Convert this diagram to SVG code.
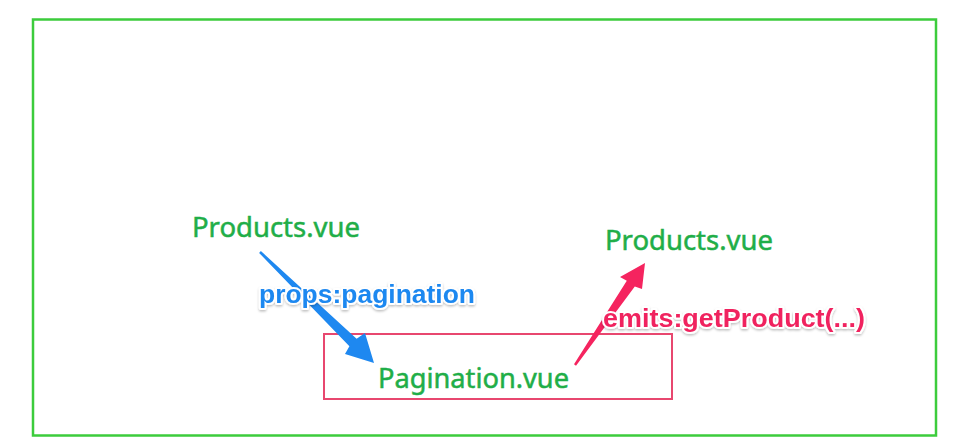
<svg xmlns="http://www.w3.org/2000/svg" width="980" height="446" viewBox="0 0 980 446">
<style>
.node-text{font-family:"Noto Sans","Open Sans","Liberation Sans",sans-serif;font-size:27.3px;fill:#1fae48;stroke:#1fae48;stroke-width:0.5;}
.lbl{font-family:"Liberation Sans",Arial,sans-serif;font-weight:bold;font-size:26.5px;stroke:#ffffff;stroke-width:4;stroke-linejoin:round;paint-order:stroke;filter:url(#sh);}
.blue{fill:#1e88f0;}
.pink{fill:#f0245e;}
</style>
<defs>
<filter id="sh" x="-10%" y="-30%" width="120%" height="160%">
<feDropShadow dx="0" dy="1.5" stdDeviation="1.2" flood-color="#000000" flood-opacity="0.25"/>
</filter>
</defs>
<rect width="980" height="446" fill="#ffffff"/>
<g id="frame">
<rect x="33" y="19.5" width="903" height="416" fill="none" stroke="#3ccc3c" stroke-width="2.5"/>
</g>
<g id="pagination-box">
<rect x="324" y="334" width="348" height="65" fill="none" stroke="#e8476f" stroke-width="2"/>
</g>
<g id="connectors">
<path d="M260.9,251.1 L356.6,338.8 L365,333 L374,363 L345,354 L349.4,346.2 L259.1,252.9 Z" fill="#1e88f0"/>
<path d="M574,364.2 L626.8,280.8 L620,277 L645,263 L642,289 L634.8,286.4 L576,365.8 Z" fill="#f5245f"/>
</g>
<g id="products-left">
<text class="node-text" x="192" y="237" textLength="168" lengthAdjust="spacingAndGlyphs">Products.vue</text>
</g>
<g id="products-right">
<text class="node-text" x="605" y="250" textLength="168" lengthAdjust="spacingAndGlyphs">Products.vue</text>
</g>
<g id="pagination">
<text class="node-text" x="378" y="388" textLength="191" lengthAdjust="spacingAndGlyphs">Pagination.vue</text>
</g>
<g id="labels">
<text class="lbl blue" x="259" y="303" textLength="216" lengthAdjust="spacingAndGlyphs">props:pagination</text>
<text class="lbl pink" x="603" y="327" textLength="262" lengthAdjust="spacingAndGlyphs">emits:getProduct(...)</text>
</g>
</svg>
